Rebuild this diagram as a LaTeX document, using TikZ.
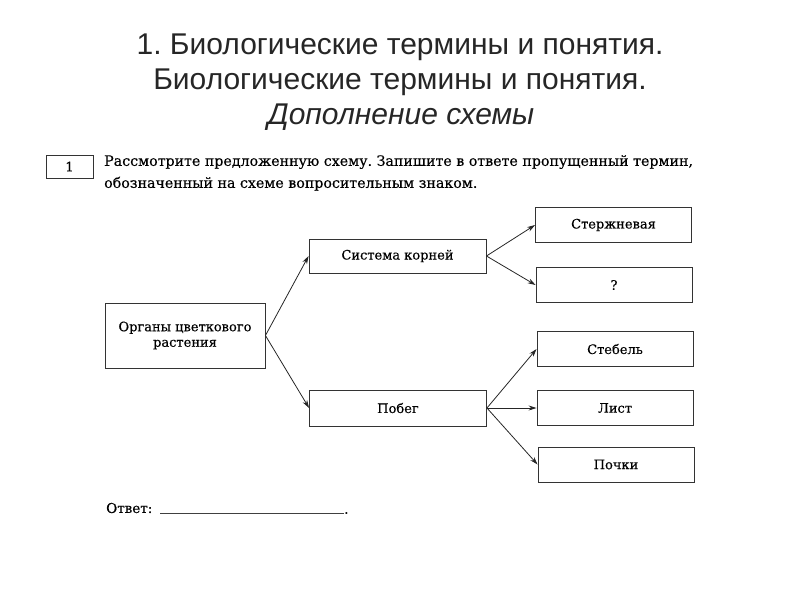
\documentclass[tikz,border=0pt]{standalone}
\usepackage{fontspec}
\setmainfont[FakeBold=0.35]{DejaVu Serif}
\newfontfamily\titlefont{Liberation Sans}
\usetikzlibrary{arrows.meta}
\frenchspacing
\begin{document}
\begin{tikzpicture}[x=1pt,y=-1pt,
  box/.style={draw=black!80,line width=0.9pt,minimum width=#1,minimum height=35pt,inner sep=2pt,align=center,font=\fontsize{13}{15.5}\selectfont},
  box/.default=156pt,
  arr/.style={-{Stealth[length=8pt,width=5pt]},draw=black!85,line width=0.8pt},
  ttl/.style={anchor=base,inner sep=0pt,font=\titlefont\fontsize{30}{34}\selectfont,text=black!85}]
\useasboundingbox (0,0) rectangle (800,600);
\node[ttl] (t1) at (400,54) {1. Биологические термины и понятия.};
\node[ttl] (t2) at (400,89.5) {Биологические термины и понятия.};
\node[ttl,font=\titlefont\itshape\fontsize{30}{34}\selectfont] (t3) at (401,124) {Дополнение схемы};
\node[draw=black!80,line width=0.9pt,minimum width=47pt,minimum height=23pt,inner sep=0pt,font=\fontsize{13}{15}\selectfont] (n1) at (69.5,166.5) {1};
\node[anchor=north west,align=left,inner sep=0pt,font=\fontsize{14.2}{22}\selectfont] (instr) at (104,155) {Рассмотрите предложенную схему. Запишите в ответе пропущенный термин,\\обозначенный на схеме вопросительным знаком.};
\node[box=160pt,minimum height=65pt] (org) at (185,335.5) {Органы цветкового\\растения};
\node[box=177pt,minimum height=34pt] (sys) at (397.5,256) {Система корней};
\node[box=177pt,minimum height=36pt] (pob) at (398,408) {Побег};
\node[box] (ster) at (613.5,225) {Стержневая};
\node[box] (q) at (614,285) {?};
\node[box] (steb) at (615,349) {Стебель};
\node[box] (list) at (615,408) {Лист};
\node[box] (poch) at (616,464.5) {Почки};
\draw[arr] (org.east) -- (sys.west);
\draw[arr] (org.east) -- (pob.west);
\draw[arr] (sys.east) -- (ster.west);
\draw[arr] (sys.east) -- (q.west);
\draw[arr] (pob.east) -- (steb.west);
\draw[arr] (pob.east) -- (list.west);
\draw[arr] (pob.east) -- (poch.west);
\node[anchor=west,inner sep=0pt,font=\fontsize{13.5}{16}\selectfont] (ans) at (106,508) {Ответ:};
\coordinate (la) at (160,513);
\coordinate (lb) at (344,513);
\draw[black!75,line width=0.8pt] (la) -- (lb);
\node[anchor=west,inner sep=0pt,font=\fontsize{13.5}{16}\selectfont] (dot) at (lb) {.};
\end{tikzpicture}
\end{document}
